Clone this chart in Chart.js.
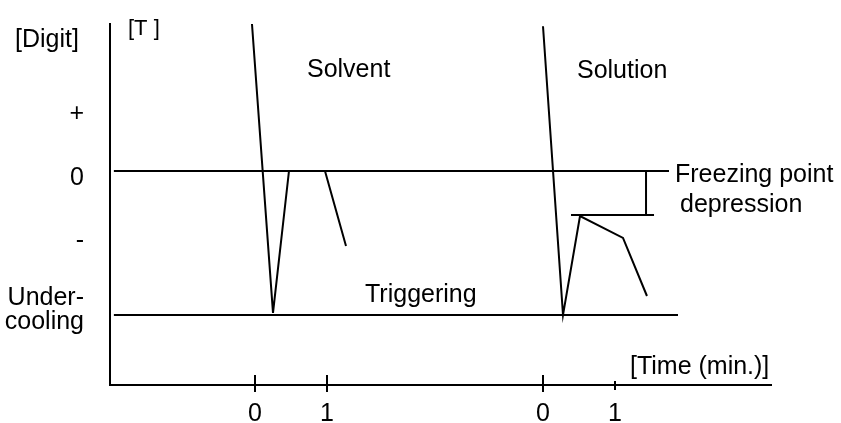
<!DOCTYPE html>
<html><head><meta charset="utf-8">
<script src="https://cdn.jsdelivr.net/npm/chart.js@4.4.1/dist/chart.umd.min.js"></script>
<style>html,body{margin:0;padding:0;background:#fff}#wrap{width:841px;height:423px;position:relative}</style>
</head><body><div id="wrap"><canvas id="c"></canvas></div>
<script>
// ---- data (schematic units: x in minutes, y in arbitrary "digit" units) ----
const xTickValues = [0, 1, 4, 5];
const xTickLabels = ['0', '1', '0', '1'];
const yTickValues = [-1.937, -0.972, -0.097, 0.792];
const yTickLabels = [['Under-', 'cooling'], '-', '0', '+'];

const solventX = [-0.042, 0.25, 0.472, 0.972, 1.264];
const solventY = [2.042, -1.97, 0, 0, -1.042];
const solutionX = [4.0, 4.278, 4.514, 5.111, 5.444];
const solutionY = [2.01, -2.0, -0.625, -0.93, -1.736];

const zeroLineX = [-1.96, 5.75];
const zeroLineY = [0, 0];
const triggerLineX = [-1.96, 5.875];
const triggerLineY = [-2, -2];
const depressionVX = [5.431, 5.431];
const depressionVY = [0, -0.611];
const depressionHX = [4.389, 5.542];
const depressionHY = [-0.611, -0.611];

const noteTexts = ['[Digit]', '[T ]', 'Solvent', 'Solution', 'Freezing point', 'depression', 'Triggering', '[Time (min.)]'];
const noteX = [-2.889, -1.764, 0.722, 4.472, 5.833, 5.903, 1.528, 5.208];
const noteY = [1.722, 1.889, 1.306, 1.292, -0.153, -0.569, -1.819, -2.819];

// ---- styles ----
const FONT = '"Liberation Sans", Arial, sans-serif';
const noteAlign = ['center', 'left', 'left', 'left', 'left', 'left', 'left', 'left'];
const noteSize = [25, 22, 25, 25, 25, 25, 25, 25];
const tickUp = [10, 10, 10, 4];
const tickDown = [7, 7, 7, 5];
const LW = 2;

const pts = (xs, ys) => xs.map((x, i) => ({x, y: ys[i]}));
const lineDs = (xs, ys) => ({
  data: pts(xs, ys), showLine: true, borderColor: '#000', borderWidth: LW,
  pointRadius: 0, tension: 0, fill: false
});
const noPad = s => { s.paddingTop = 0; s.paddingBottom = 0; s.paddingLeft = 0; s.paddingRight = 0; };

const decor = {
  id: 'decor',
  afterDraw(chart) {
    const {ctx, scales: {x, y}} = chart;
    ctx.save();
    ctx.strokeStyle = '#000';
    ctx.lineWidth = LW;
    const axisY = y.getPixelForValue(y.min);
    xTickValues.forEach((v, i) => {
      const px = Math.round(x.getPixelForValue(v));
      ctx.beginPath();
      ctx.moveTo(px, axisY - tickUp[i]);
      ctx.lineTo(px, axisY + tickDown[i]);
      ctx.stroke();
    });
    ctx.fillStyle = '#000';
    ctx.textBaseline = 'alphabetic';
    noteTexts.forEach((t, i) => {
      ctx.font = noteSize[i] + 'px ' + FONT;
      ctx.textAlign = noteAlign[i];
      ctx.fillText(t, x.getPixelForValue(noteX[i]), y.getPixelForValue(noteY[i]));
    });
    ctx.restore();
  }
};

new Chart(document.getElementById('c'), {
  type: 'scatter',
  data: {
    datasets: [
      lineDs(zeroLineX, zeroLineY),
      lineDs(triggerLineX, triggerLineY),
      lineDs(depressionVX, depressionVY),
      lineDs(depressionHX, depressionHY),
      lineDs(solventX, solventY),
      lineDs(solutionX, solutionY)
    ]
  },
  options: {
    responsive: true,
    maintainAspectRatio: false,
    animation: false,
    events: [],
    layout: {padding: {top: 24, right: 70, left: 0, bottom: 0}},
    plugins: {legend: {display: false}, tooltip: {enabled: false}},
    scales: {
      x: {
        type: 'linear', position: 'bottom',
        min: -2.0139, max: 7.1667,
        grid: {display: false, drawTicks: false},
        border: {display: true, color: '#000', width: 2},
        afterBuildTicks: s => { s.ticks = xTickValues.map(v => ({value: v})); },
        afterFit: s => { s.height = 38; noPad(s); },
        ticks: {
          autoSkip: false, maxRotation: 0, padding: 14, color: '#000',
          font: {family: FONT, size: 25},
          callback: (v, i) => xTickLabels[i]
        }
      },
      y: {
        type: 'linear', position: 'left',
        min: -2.9722, max: 2.0417,
        grid: {display: false, drawTicks: false},
        border: {display: true, color: '#000', width: 2},
        afterBuildTicks: s => { s.ticks = yTickValues.map(v => ({value: v})); },
        afterFit: s => { s.width = 110; noPad(s); },
        ticks: {
          autoSkip: false, padding: 26, color: '#000',
          font: {family: FONT, size: 25, lineHeight: 0.95},
          callback: (v, i) => yTickLabels[i]
        }
      }
    }
  },
  plugins: [decor]
});
</script>
</body></html>
